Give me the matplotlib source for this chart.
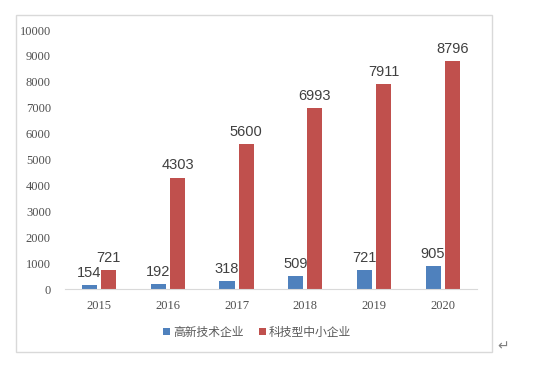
import matplotlib.pyplot as plt
import numpy as np
from matplotlib.patches import Rectangle

years = ["2015", "2016", "2017", "2018", "2019", "2020"]
high_tech = [154, 192, 318, 509, 721, 905]
sme = [721, 4303, 5600, 6993, 7911, 8796]
series_names = ["高新技术企业", "科技型中小企业"]

plt.rcParams["font.family"] = ["Noto Sans CJK SC", "DejaVu Sans"]

fig = plt.figure(figsize=(5.49, 3.66), dpi=100)
fig.patch.set_facecolor("white")
ax = fig.add_axes([0.118, 0.210, 0.751, 0.708])

x = np.arange(len(years))
w = 0.22
b1 = ax.bar(x - 0.14, high_tech, w, color="#4F81BD", label=series_names[0])
b2 = ax.bar(x + 0.14, sme, w, color="#C0504D", label=series_names[1])

for bars in (b1, b2):
    for rect in bars:
        h = rect.get_height()
        ax.text(rect.get_x() + rect.get_width() / 2, h + 200, f"{int(h)}",
                ha="center", va="bottom", fontsize=10.5, color="#404040",
                family="Liberation Sans")

ax.set_xlim(-0.5, len(years) - 0.5)
ax.set_ylim(0, 10000)
ax.set_yticks(range(0, 10001, 1000))
ax.set_xticks(x)
ax.set_xticklabels(years)
for lab in ax.get_xticklabels() + ax.get_yticklabels():
    lab.set_family("Liberation Serif")
    lab.set_fontsize(9)
    lab.set_color("#505050")
ax.tick_params(axis="both", length=0)
ax.tick_params(axis="x", pad=8)
ax.tick_params(axis="y", pad=10)
for s in ("top", "right", "left"):
    ax.spines[s].set_visible(False)
ax.spines["bottom"].set_color("#d9d9d9")

fig.legend(handles=[b1, b2], loc="center", bbox_to_anchor=(0.468, 0.092),
           ncol=2, frameon=False, fontsize=8.5, handlelength=0.6,
           handleheight=0.6, handletextpad=0.25, columnspacing=1.3,
           labelcolor="#595959")

fig.patches.append(Rectangle((16 / 549, 1 - 352 / 366), 476 / 549, 337 / 366,
                             transform=fig.transFigure, fill=False,
                             edgecolor="#d9d9d9", linewidth=1))
fig.text(497 / 549, 1 - 346 / 366, "↵", fontsize=10, color="#808080",
         ha="left", va="center", family="DejaVu Sans")

fig.savefig("out.png", dpi=100)
